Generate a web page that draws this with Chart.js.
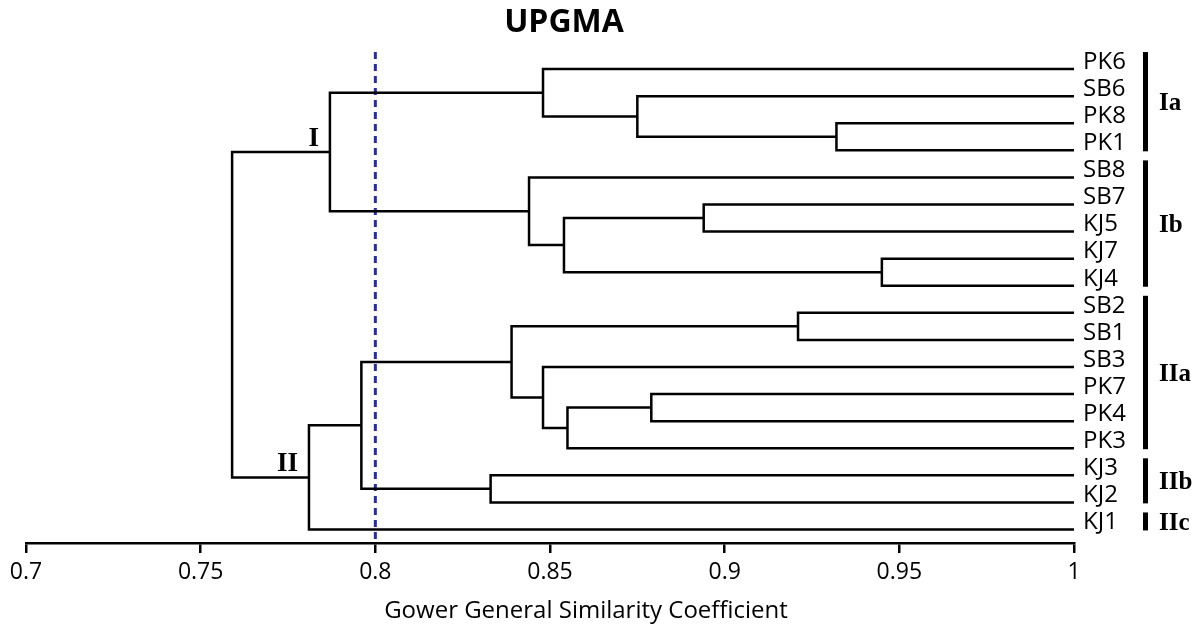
<!DOCTYPE html>
<html>
<head>
<meta charset="utf-8">
<script src="https://cdn.jsdelivr.net/npm/chart.js@4.4.1/dist/chart.umd.min.js"></script>
<style>
  html, body { margin: 0; padding: 0; background: #fff; }
  #wrap { width: 1201px; height: 627px; }
</style>
</head>
<body>
<div id="wrap"><canvas id="myChart" width="1201" height="627"></canvas></div>
<script>
let leaves = ['PK6','SB6','PK8','PK1','SB8','SB7','KJ5','KJ7','KJ4','SB2','SB1','SB3','PK7','PK4','PK3','KJ3','KJ2','KJ1']

// merges in order, n0..n16
let mergeLeft   = ['PK8','SB6','PK6','SB7','KJ7','n3','SB8','n2','SB2','PK7','n9','SB3','n8','KJ3','n12','n14','n7']
let mergeRight  = ['PK1','n0','n1','KJ5','KJ4','n4','n5','n6','SB1','PK4','PK3','n10','n11','KJ2','n13','KJ1','n15']
let mergeHeight = [0.932,0.875,0.848,0.894,0.945,0.854,0.844,0.787,0.921,0.879,0.855,0.848,0.839,0.833,0.796,0.781,0.759]

let xTicks = [0.7,0.75,0.8,0.85,0.9,0.95,1]
let cutoff = 0.8

let clusterNames = ['I','II']
let clusterNodes = ['n7','n15']

let groupNames = ['Ia','Ib','IIa','IIb','IIc']
let groupFirst = ['PK6','SB8','SB2','KJ3','KJ1']
let groupLast  = ['PK1','KJ4','PK3','KJ2','KJ1']

let nodes = {}
for (let i = 0; i < leaves.length; i++) {
  nodes[leaves[i]] = { x: 1, y: i }
}
let datasets = []
for (let i = 0; i < mergeHeight.length; i++) {
  let a = nodes[mergeLeft[i]]
  let b = nodes[mergeRight[i]]
  let h = mergeHeight[i]
  nodes['n' + i] = { x: h, y: (a.y + b.y) / 2 }
  datasets.push({
    data: [{x: a.x, y: a.y}, {x: h, y: a.y}, {x: h, y: b.y}, {x: b.x, y: b.y}],
    showLine: true,
    borderColor: '#000',
    borderWidth: 2.5,
    pointRadius: 0,
    tension: 0
  })
}

let yMin = -0.63
let yMax = 17.5
datasets.push({
  data: [{x: cutoff, y: yMin}, {x: cutoff, y: yMax}],
  showLine: true,
  borderColor: '#26308f',
  borderWidth: 3,
  borderDash: [7, 5],
  pointRadius: 0
})

let extras = {
  id: 'extras',
  afterDraw(chart) {
    let c = chart.ctx
    let area = chart.chartArea
    let xs = chart.scales.x
    let ys = chart.scales.y
    c.save()
    c.fillStyle = '#000'

    c.font = 'bold 32px "Open Sans"'
    c.textAlign = 'center'
    c.textBaseline = 'middle'
    c.fillText('UPGMA', (area.left + area.right) / 2 + 14, 23)

    c.font = '24px "Open Sans"'
    c.fillText('Gower General Similarity Coefficient', (area.left + area.right) / 2 + 36, 611)

    c.font = 'bold 27px "Liberation Serif"'
    c.textAlign = 'right'
    c.textBaseline = 'alphabetic'
    for (let i = 0; i < clusterNames.length; i++) {
      let n = nodes[clusterNodes[i]]
      c.fillText(clusterNames[i], xs.getPixelForValue(n.x) - 11, ys.getPixelForValue(n.y) - 6)
    }

    c.font = 'bold 25px "Liberation Serif"'
    c.textAlign = 'left'
    c.textBaseline = 'middle'
    for (let i = 0; i < groupNames.length; i++) {
      let top = ys.getPixelForValue(leaves.indexOf(groupFirst[i])) - 17
      let bot = ys.getPixelForValue(leaves.indexOf(groupLast[i])) + 1
      let bx = area.right + 69
      c.fillRect(bx, top, 5, bot - top)
      c.fillText(groupNames[i], bx + 16, (top + bot) / 2 + 2)
    }
    c.restore()
  }
}

const ctx = document.getElementById('myChart')

new Chart(ctx, {
  type: 'scatter',
  data: { datasets: datasets },
  options: {
    responsive: false,
    animation: false,
    layout: { padding: { left: 26, top: 52, right: 0, bottom: 0 } },
    plugins: {
      legend: { display: false },
      tooltip: { enabled: false },
      title: { display: false }
    },
    scales: {
      x: {
        type: 'linear',
        position: 'bottom',
        min: 0.7,
        max: 1,
        afterBuildTicks: s => { s.ticks = xTicks.map(v => ({ value: v })) },
        afterFit: s => { s.height = 84 },
        grid: { drawOnChartArea: false, drawTicks: true, tickLength: 10, color: '#000', lineWidth: 2.5 },
        border: { display: true, color: '#000', width: 2.5 },
        ticks: {
          color: '#000',
          padding: 6,
          font: { family: 'Open Sans', size: 23 },
          maxRotation: 0,
          callback: v => String(+v.toFixed(2))
        }
      },
      y: {
        type: 'linear',
        position: 'right',
        reverse: true,
        min: yMin,
        max: yMax,
        afterBuildTicks: s => { s.ticks = leaves.map((_, i) => ({ value: i })) },
        afterFit: s => { s.width = 127 },
        grid: { display: false, drawTicks: false },
        border: { display: false },
        ticks: {
          autoSkip: false,
          color: '#000',
          padding: 9,
          labelOffset: -7,
          font: { family: 'Open Sans', size: 24 },
          callback: v => leaves[v]
        }
      }
    }
  },
  plugins: [extras]
})
</script>
</body>
</html>
